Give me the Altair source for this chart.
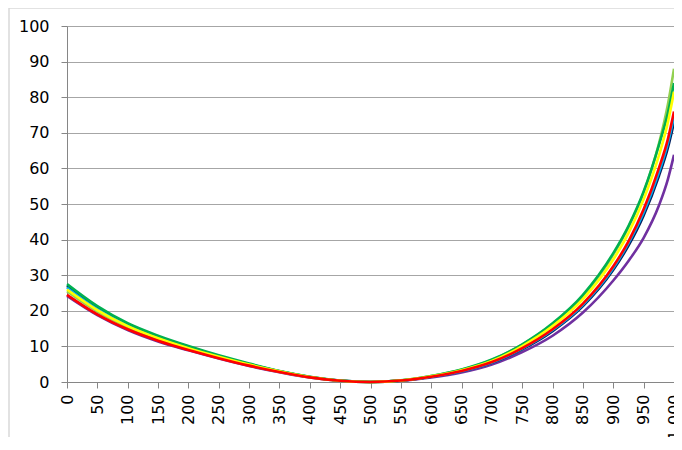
import altair as alt
import pandas as pd

x_vals = [0, 50, 100, 150, 200, 250, 300, 350, 400, 450, 500, 550, 600, 650, 700, 750, 800, 850, 900, 925, 950, 975, 990, 1000]

purple = [24.2, 18.8, 14.6, 11.4, 8.9, 6.6, 4.5, 2.75, 1.25, 0.33, 0, 0.36, 1.3, 2.7, 4.9, 8.4, 13.0, 19.5, 28.5, 34.0, 40.5, 49.5, 57.0, 63.8]
dark_blue = [27.0, 20.8, 16.2, 12.7, 9.9, 7.3, 5.0, 3.0, 1.4, 0.38, 0, 0.39, 1.45, 3.0, 5.4, 9.2, 14.3, 21.3, 31.5, 38.3, 46.8, 57.8, 65.8, 73.0]
light_blue = [26.5, 20.5, 16.0, 12.5, 9.7, 7.2, 4.95, 3.0, 1.4, 0.37, 0, 0.4, 1.5, 3.05, 5.5, 9.4, 14.6, 21.7, 32.0, 39.0, 47.6, 58.8, 67.1, 74.5]
lime = [25.5, 19.8, 15.4, 12.1, 9.3, 7.0, 4.8, 2.9, 1.35, 0.36, 0, 0.43, 1.65, 3.45, 6.2, 10.5, 16.3, 24.2, 35.8, 43.5, 53.2, 66.8, 78.0, 88.0]
dark_green = [27.5, 21.3, 16.5, 13.0, 10.1, 7.5, 5.2, 3.1, 1.5, 0.4, 0, 0.45, 1.7, 3.5, 6.3, 10.6, 16.5, 24.5, 36.2, 43.8, 53.5, 66.5, 75.6, 84.0]
yellow = [26.0, 20.2, 15.7, 12.3, 9.5, 7.1, 4.9, 3.0, 1.4, 0.37, 0, 0.42, 1.6, 3.3, 5.9, 10.1, 15.7, 23.3, 34.4, 41.8, 51.3, 63.5, 73.0, 81.5]
red = [24.5, 19.0, 14.8, 11.6, 9.0, 6.7, 4.6, 2.8, 1.3, 0.35, 0, 0.4, 1.5, 3.1, 5.6, 9.5, 14.8, 22.0, 32.5, 39.5, 48.5, 60.0, 68.3, 76.0]

series = [
    ("purple", purple, "#7030A0"),
    ("dark_blue", dark_blue, "#002060"),
    ("light_blue", light_blue, "#00B0F0"),
    ("lime", lime, "#92D050"),
    ("dark_green", dark_green, "#00B050"),
    ("yellow", yellow, "#FFFF00"),
    ("red", red, "#FF0000"),
]

x_ticks = list(range(0, 1001, 50))
y_ticks = list(range(0, 101, 10))

FONT = "DejaVu Sans"

x_enc = alt.X("x:Q", scale=alt.Scale(domain=[0, 1000], nice=False),
              axis=alt.Axis(values=x_ticks, labelAngle=270, grid=False, title=None,
                            tickSize=6, labelPadding=6, labelFontSize=16, labelFont=FONT,
                            labelColor="#000000", domainColor="#868686", tickColor="#868686",
                            labelOverlap=False, labelFlush=False))
y_enc = alt.Y("y:Q", scale=alt.Scale(domain=[0, 100], nice=False),
              axis=alt.Axis(values=y_ticks, grid=True, gridColor="#A6A6A6", title=None,
                            tickSize=6, labelPadding=12, labelFontSize=16, labelFont=FONT,
                            labelColor="#000000", domainColor="#868686", tickColor="#868686"))

layers = []
for name, vals, col in series:
    df = pd.DataFrame({"x": x_vals, "y": vals})
    layers.append(
        alt.Chart(df).mark_line(color=col, strokeWidth=2.6, interpolate="monotone")
        .encode(x=x_enc, y=y_enc)
    )

frame_left = alt.Chart(pd.DataFrame({"a": [0]})).mark_rule(color="#D9D9D9", strokeWidth=1.5).encode(
    x=alt.value(-58), y=alt.value(-18), y2=alt.value(420))
frame_top = alt.Chart(pd.DataFrame({"a": [0]})).mark_rule(color="#D9D9D9", strokeWidth=1.5).encode(
    x=alt.value(-58), x2=alt.value(640), y=alt.value(-18))

chart = alt.layer(frame_left, frame_top, *layers).properties(
    width=607, height=356,
    padding={"left": 59, "top": 18, "right": 0, "bottom": 55},
    autosize=alt.AutoSizeParams(type="none"),
).configure_view(stroke=None).configure(background="#FFFFFF")

chart.save("out.html", embed_options={"renderer": "svg", "actions": False})
